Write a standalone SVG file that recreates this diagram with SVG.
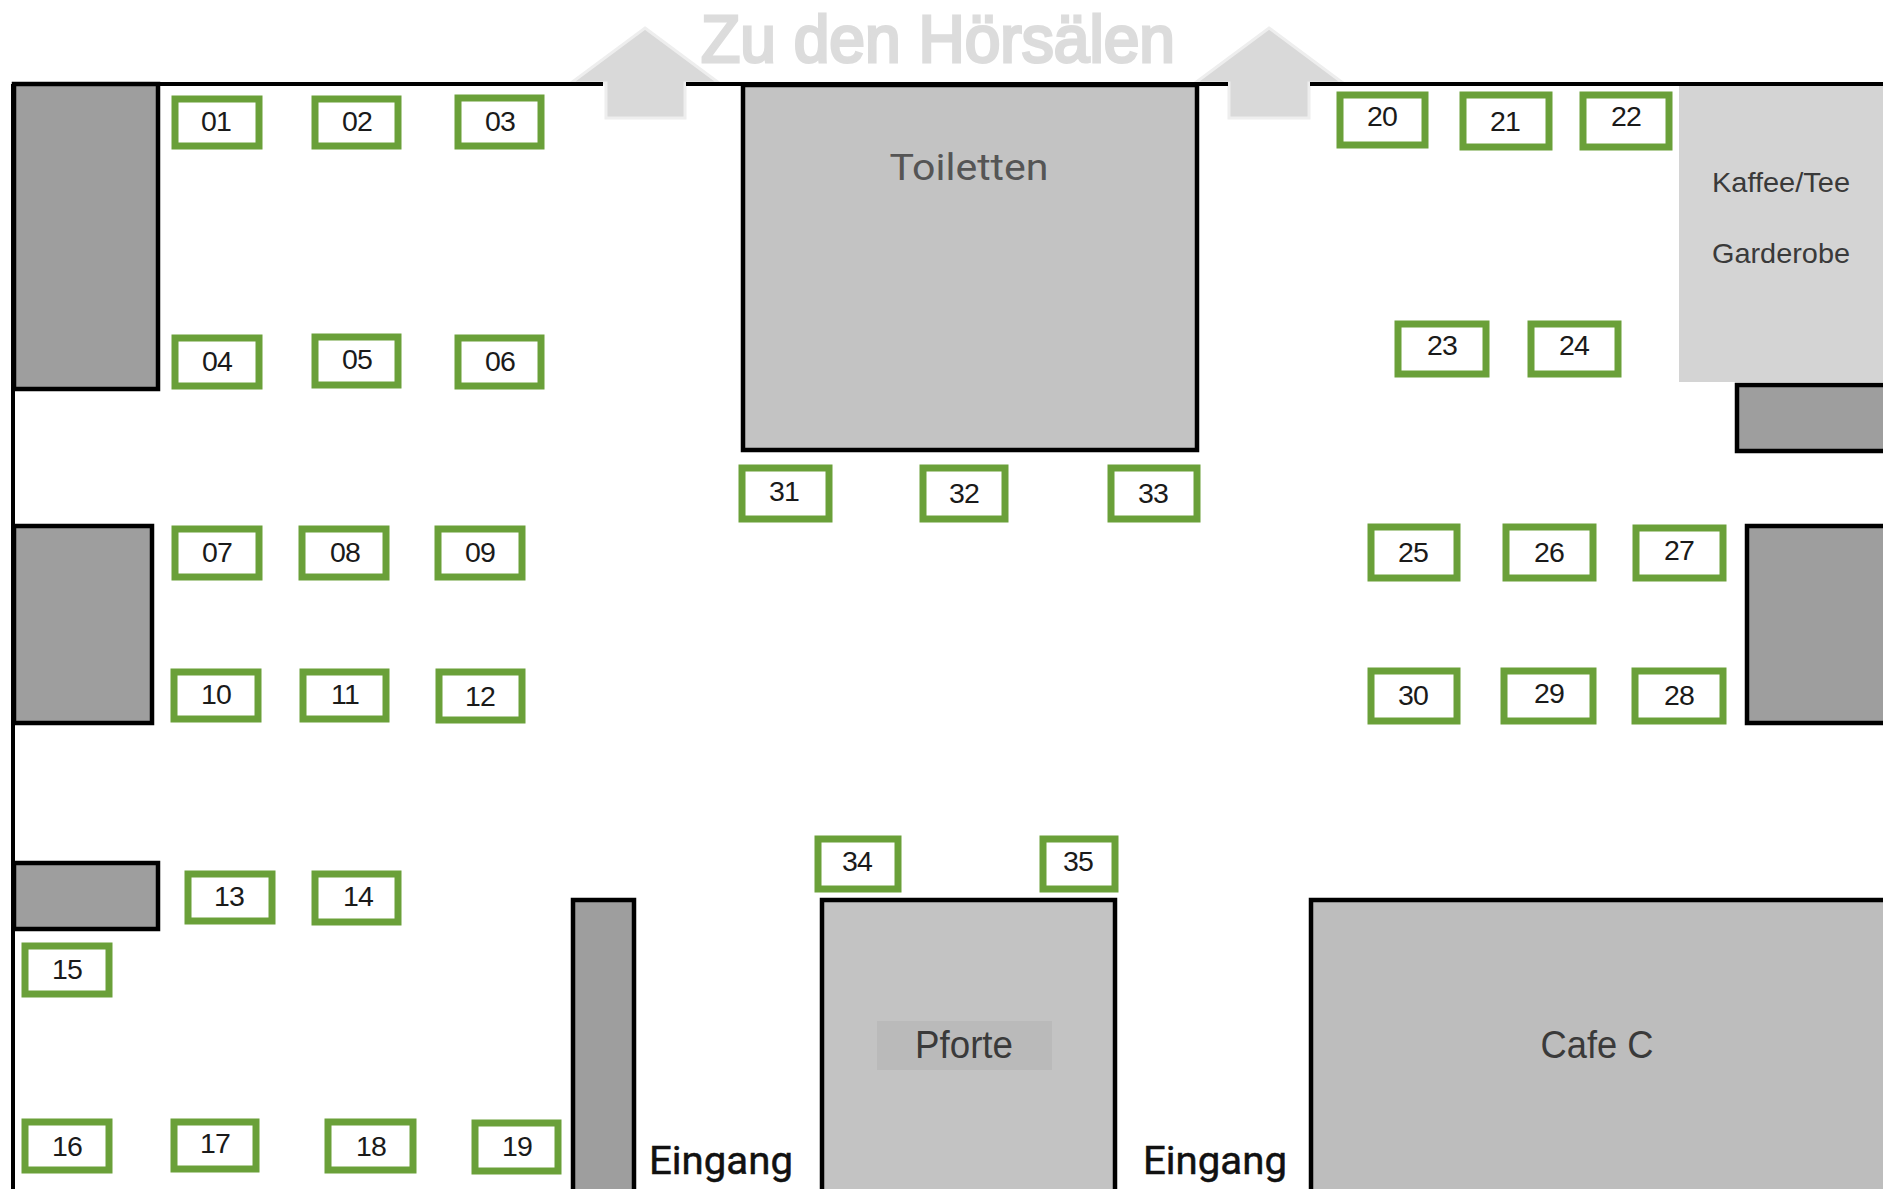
<svg xmlns="http://www.w3.org/2000/svg" width="1883" height="1189" viewBox="0 0 1883 1189">
<style>
.bg{fill:#fff}
.wall{stroke:#000;stroke-width:4;fill:none}
.dark{fill:#9e9e9e;stroke:#000;stroke-width:4.5}
.mid{fill:#c3c3c3;stroke:#000;stroke-width:4.5}
.seat{fill:#fff;stroke:#6aa039;stroke-width:7}
.n{font-family:"Liberation Sans",Arial,sans-serif;font-size:28.5px;letter-spacing:-0.8px;fill:#1a1a1a;text-anchor:middle}
.arrow{fill:#d9d9d9;stroke:#eeeeee;stroke-width:3}
.room{font-family:"Liberation Sans",Arial,sans-serif;fill:#3a3a3a;text-anchor:middle}
.plex{font-family:Roboto,"Noto Sans",sans-serif;text-anchor:middle}
</style>
<rect class="bg" width="1883" height="1189"/>
<g id="arrows">
<path class="arrow" d="M645 28L719 83H685V118H606V83H571Z"/>
<path class="arrow" d="M1269 28L1343 83H1309V118H1229V83H1195Z"/>
<text x="938" y="62" font-family="'Liberation Sans',Arial,sans-serif" font-size="66" fill="#dcdcdc" stroke="#dcdcdc" stroke-width="3" text-anchor="middle" textLength="474" lengthAdjust="spacingAndGlyphs">Zu den Hörsälen</text>
</g>
<g id="building">
<path class="wall" d="M12 84H603M686 84H1228M1310 84H1883M13 84V1189"/>
<rect id="wall-left-1" class="dark" x="14" y="84" width="144" height="305"/>
<rect id="wall-left-2" class="dark" x="14" y="526" width="138" height="197"/>
<rect id="wall-left-3" class="dark" x="14" y="863" width="144" height="66"/>
<rect id="column" class="dark" x="573" y="900" width="61" height="300"/>
<rect id="wall-right-1" class="dark" x="1737" y="385" width="150" height="66"/>
<rect id="wall-right-2" class="dark" x="1747" y="526" width="140" height="197"/>
</g>
<g id="toiletten"><rect class="mid" x="743" y="85" width="454" height="365"/><text class="plex" x="969" y="180" font-size="37" fill="#555" textLength="159" lengthAdjust="spacingAndGlyphs">Toiletten</text></g>
<g id="kaffee"><rect x="1679" y="86" width="204" height="296" fill="#d4d4d4"/><text class="room" x="1781" y="192" font-size="28" textLength="138" lengthAdjust="spacingAndGlyphs">Kaffee/Tee</text><text class="room" x="1781" y="263" font-size="28" textLength="138" lengthAdjust="spacingAndGlyphs">Garderobe</text></g>
<g id="pforte"><rect class="mid" x="822" y="900" width="293" height="300"/><rect x="877" y="1021" width="175" height="49" fill="#bababa"/><text class="room" x="964" y="1058" font-size="38" textLength="98" lengthAdjust="spacingAndGlyphs">Pforte</text></g>
<g id="cafe"><rect class="mid" x="1311" y="900" width="580" height="300" style="fill:#bdbdbd"/><text class="room" x="1597" y="1058" font-size="38" textLength="113" lengthAdjust="spacingAndGlyphs">Cafe C</text></g>
<g id="eingang-1"><text class="plex" x="721" y="1174" font-size="39" fill="#111" stroke="#111" stroke-width="0.5" textLength="144" lengthAdjust="spacingAndGlyphs">Eingang</text></g>
<g id="eingang-2"><text class="plex" x="1215" y="1174" font-size="39" fill="#111" stroke="#111" stroke-width="0.5" textLength="144" lengthAdjust="spacingAndGlyphs">Eingang</text></g>
<g id="connectors"></g>
<g id="s01"><rect class="seat" x="175" y="99" width="84" height="47"/><text class="n" x="216" y="131">01</text></g>
<g id="s02"><rect class="seat" x="315" y="99" width="83" height="47"/><text class="n" x="357" y="131">02</text></g>
<g id="s03"><rect class="seat" x="458" y="98" width="83" height="48"/><text class="n" x="500" y="131">03</text></g>
<g id="s04"><rect class="seat" x="175" y="338" width="84" height="48"/><text class="n" x="217" y="371">04</text></g>
<g id="s05"><rect class="seat" x="315" y="337" width="83" height="48"/><text class="n" x="357" y="369">05</text></g>
<g id="s06"><rect class="seat" x="458" y="338" width="83" height="48"/><text class="n" x="500" y="371">06</text></g>
<g id="s07"><rect class="seat" x="175" y="529" width="84" height="48"/><text class="n" x="217" y="562">07</text></g>
<g id="s08"><rect class="seat" x="302" y="529" width="84" height="48"/><text class="n" x="345" y="562">08</text></g>
<g id="s09"><rect class="seat" x="438" y="529" width="84" height="48"/><text class="n" x="480" y="562">09</text></g>
<g id="s10"><rect class="seat" x="174" y="672" width="84" height="47"/><text class="n" x="216" y="704">10</text></g>
<g id="s11"><rect class="seat" x="303" y="672" width="83" height="47"/><text class="n" x="345" y="704">11</text></g>
<g id="s12"><rect class="seat" x="439" y="672" width="83" height="48"/><text class="n" x="480" y="706">12</text></g>
<g id="s13"><rect class="seat" x="188" y="874" width="84" height="47"/><text class="n" x="229" y="906">13</text></g>
<g id="s14"><rect class="seat" x="315" y="874" width="83" height="48"/><text class="n" x="358" y="906">14</text></g>
<g id="s15"><rect class="seat" x="25" y="946" width="84" height="48"/><text class="n" x="67" y="979">15</text></g>
<g id="s16"><rect class="seat" x="25" y="1122" width="84" height="48"/><text class="n" x="67" y="1156">16</text></g>
<g id="s17"><rect class="seat" x="174" y="1122" width="82" height="47"/><text class="n" x="215" y="1153">17</text></g>
<g id="s18"><rect class="seat" x="328" y="1122" width="85" height="48"/><text class="n" x="371" y="1156">18</text></g>
<g id="s19"><rect class="seat" x="475" y="1123" width="83" height="48"/><text class="n" x="517" y="1156">19</text></g>
<g id="s20"><rect class="seat" x="1340" y="95" width="85" height="50"/><text class="n" x="1382" y="126">20</text></g>
<g id="s21"><rect class="seat" x="1463" y="95" width="86" height="52"/><text class="n" x="1505" y="131">21</text></g>
<g id="s22"><rect class="seat" x="1583" y="95" width="86" height="52"/><text class="n" x="1626" y="126">22</text></g>
<g id="s23"><rect class="seat" x="1398" y="324" width="88" height="50"/><text class="n" x="1442" y="355">23</text></g>
<g id="s24"><rect class="seat" x="1531" y="324" width="87" height="50"/><text class="n" x="1574" y="355">24</text></g>
<g id="s25"><rect class="seat" x="1371" y="527" width="86" height="51"/><text class="n" x="1413" y="562">25</text></g>
<g id="s26"><rect class="seat" x="1506" y="527" width="87" height="51"/><text class="n" x="1549" y="562">26</text></g>
<g id="s27"><rect class="seat" x="1636" y="528" width="87" height="50"/><text class="n" x="1679" y="560">27</text></g>
<g id="s28"><rect class="seat" x="1635" y="671" width="88" height="50"/><text class="n" x="1679" y="705">28</text></g>
<g id="s29"><rect class="seat" x="1504" y="671" width="89" height="50"/><text class="n" x="1549" y="703">29</text></g>
<g id="s30"><rect class="seat" x="1371" y="671" width="86" height="50"/><text class="n" x="1413" y="705">30</text></g>
<g id="s31"><rect class="seat" x="742" y="468" width="87" height="51"/><text class="n" x="784" y="501">31</text></g>
<g id="s32"><rect class="seat" x="923" y="468" width="82" height="51"/><text class="n" x="964" y="503">32</text></g>
<g id="s33"><rect class="seat" x="1111" y="468" width="86" height="51"/><text class="n" x="1153" y="503">33</text></g>
<g id="s34"><rect class="seat" x="818" y="839" width="80" height="50"/><text class="n" x="857" y="871">34</text></g>
<g id="s35"><rect class="seat" x="1043" y="839" width="72" height="50"/><text class="n" x="1078" y="871">35</text></g>
</svg>
